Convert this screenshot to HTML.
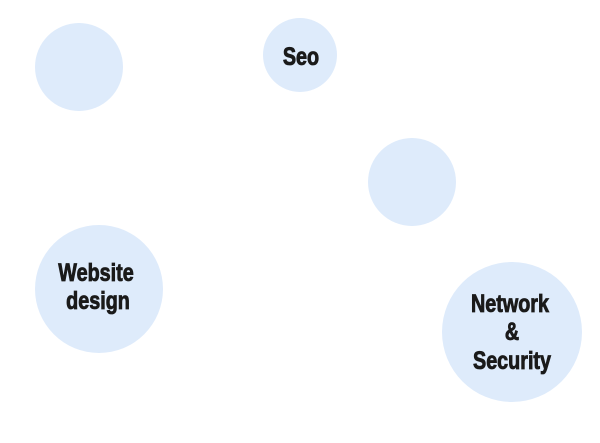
<!DOCTYPE html>
<html><head><style>html,body{margin:0;padding:0;background:#fff;}svg{display:block}</style></head>
<body>
<svg width="600" height="443" xmlns="http://www.w3.org/2000/svg">
<g fill="#deebfb">
<circle cx="79" cy="67" r="44"/>
<circle cx="300" cy="55" r="37"/>
<circle cx="412" cy="182" r="44"/>
<circle cx="99" cy="289" r="64"/>
<circle cx="512" cy="332" r="70"/>
</g>
<g font-family="'Liberation Sans',sans-serif" font-weight="bold" font-size="23" fill="#1a1a1a" text-anchor="middle" stroke="#1a1a1a" stroke-width="0.8">
<text transform="translate(301,65) scale(0.86,1.08)">Seo</text>
<text transform="translate(96,281) scale(0.86,1.08)">Website</text>
<text transform="translate(98,309) scale(0.86,1.08)">design</text>
<text transform="translate(510,312) scale(0.86,1.08)">Network</text>
<text transform="translate(512,340) scale(0.86,1.08)">&amp;</text>
<text transform="translate(512,369) scale(0.86,1.08)">Security</text>
</g>
</svg>
</body></html>
